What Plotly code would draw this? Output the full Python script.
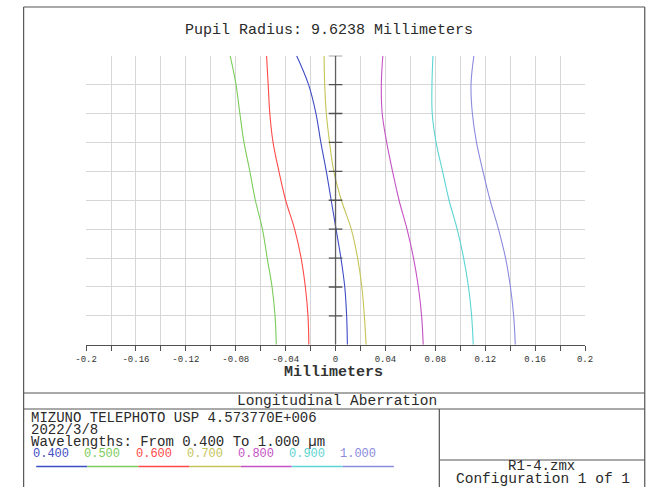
import plotly.graph_objects as go

W, H = 661, 487

# ---- data (normalized pupil vs longitudinal aberration in mm) ----
pupil = [1.0, 0.9, 0.8, 0.7, 0.6, 0.5, 0.4, 0.3, 0.2, 0.1, 0.0]
wl_400 = [-0.0312, -0.0216, -0.0157, -0.0118, -0.0074, -0.0035, 0.0004, 0.0043, 0.0074, 0.0089, 0.0095]
wl_500 = [-0.0845, -0.0798, -0.0767, -0.0734, -0.0687, -0.0643, -0.0586, -0.0548, -0.0509, -0.0485, -0.0475]
wl_600 = [-0.0553, -0.0540, -0.0527, -0.0501, -0.0454, -0.0400, -0.0328, -0.0276, -0.0242, -0.0221, -0.0214]
wl_700 = [-0.0092, -0.0087, -0.0074, -0.0048, -0.0014, 0.0047, 0.0126, 0.0177, 0.0211, 0.0231, 0.0245]
wl_800 = [0.0379, 0.0367, 0.0374, 0.0410, 0.0457, 0.0509, 0.0573, 0.0625, 0.0664, 0.0690, 0.0703]
wl_900 = [0.0781, 0.0773, 0.0775, 0.0806, 0.0858, 0.0910, 0.0975, 0.1027, 0.1066, 0.1091, 0.1104]
wl_1000 = [0.1109, 0.1086, 0.1097, 0.1130, 0.1182, 0.1239, 0.1306, 0.1363, 0.1402, 0.1428, 0.1441]

wave_labels = ["0.400", "0.500", "0.600", "0.700", "0.800", "0.900", "1.000"]
wave_colors = ["#3e4cc6", "#7ccc5a", "#ff4a4a", "#c4c458", "#c452c4", "#5cd4d4", "#8a8ade"]
series = [wl_400, wl_500, wl_600, wl_700, wl_800, wl_900, wl_1000]

x_tickvals = [round(-0.2 + 0.02 * i, 2) for i in range(21)]
x_ticktext = ["-0.2", "", "-0.16", "", "-0.12", "", "-0.08", "", "-0.04", "", "0",
              "", "0.04", "", "0.08", "", "0.12", "", "0.16", "", "0.2"]

MONO = "Liberation Mono, Courier New, monospace"
LINE = "#555555"
TXT = "#2a2a2a"

def X(px):
    return px / W

def Y(py):
    return 1 - py / H

# plot area in pixels
L, R, T, B = 77.3, 591.0, 55.7, 344.8

fig = go.Figure()
for vals, c, name in zip(series, wave_colors, wave_labels):
    fig.add_trace(go.Scatter(x=vals, y=pupil, mode="lines", name=name,
                             line=dict(color=c, width=1.1, shape="spline"),
                             showlegend=False, hoverinfo="skip"))

shapes = []
# zero line with ticks
shapes.append(dict(type="line", xref="x", yref="y", x0=0, x1=0, y0=0, y1=1,
                   line=dict(color="#606060", width=1.3)))
px_per_unit = (R - L) / 0.4
half = 7 / px_per_unit
for i in range(1, 11):
    yv = i / 10
    shapes.append(dict(type="line", xref="x", yref="y", x0=-half, x1=half, y0=yv, y1=yv,
                       line=dict(color="#505050", width=1.3)))

# page frame and table lines (pixel layout)
def seg(x0, y0, x1, y1, w=1.2):
    shapes.append(dict(type="line", xref="paper", yref="paper",
                       x0=X(x0), y0=Y(y0), x1=X(x1), y1=Y(y1),
                       line=dict(color=LINE, width=w)))

seg(13, 7, 652.5, 7)
seg(13, 7, 13, 487)
seg(652.5, 7, 652.5, 487)
seg(13, 393, 652.5, 393)
seg(13, 409, 652.5, 409)
seg(441, 409, 441, 487)
seg(441, 460, 652.5, 460)

# wavelength legend segments
seg_x0, seg_w = 26, 52.6
for i, c in enumerate(wave_colors):
    shapes.append(dict(type="line", xref="paper", yref="paper",
                       x0=X(seg_x0 + i * seg_w), x1=X(seg_x0 + (i + 1) * seg_w),
                       y0=Y(466.5), y1=Y(466.5), line=dict(color=c, width=1.3)))

annotations = []
def txt(s, x, y, size=15, anchor="left", color=TXT, bold=False):
    annotations.append(dict(text=("<b>%s</b>" % s) if bold else s,
                            x=X(x), y=Y(y), xref="paper", yref="paper",
                            xanchor=anchor, yanchor="middle", showarrow=False, borderpad=0,
                            font=dict(family=MONO, size=size, color=color)))

txt("Pupil Radius: 9.6238 Millimeters", 327, 30, anchor="center")
txt("Millimeters", 332, 372, anchor="center", bold=True, color="#333333")
txt("Longitudinal Aberration", 336, 401, anchor="center", size=14.5)
txt("MIZUNO TELEPHOTO USP 4.573770E+006", 20, 418, size=14)
txt("2022/3/8", 20, 430, size=14)
txt("Wavelengths: From 0.400 To 1.000 \u00b5m", 20, 442, size=14)
for i, (lab, c) in enumerate(zip(wave_labels, wave_colors)):
    txt(lab, 22 + i * 52.6, 454, size=12, color=c)
txt("R1-4.zmx", 546, 466, anchor="center", size=14)
txt("Configuration 1 of 1", 548, 478.5, anchor="center", size=14.5)

fig.update_layout(
    width=W, height=H,
    margin=dict(l=0, r=0, t=0, b=0),
    paper_bgcolor="white", plot_bgcolor="white",
    shapes=shapes, annotations=annotations,
    xaxis=dict(domain=[X(L), X(R)], range=[-0.2, 0.2], tickvals=x_tickvals, ticktext=x_ticktext,
               showgrid=True, gridcolor="#d6d6d6", gridwidth=1, zeroline=False,
               showline=True, linecolor="#505050", linewidth=1.3,
               ticks="outside", ticklen=5, tickcolor="#505050", tickwidth=1,
               tickfont=dict(family=MONO, size=9, color="#333333"), fixedrange=True),
    yaxis=dict(domain=[Y(B), Y(T)], range=[0, 1], dtick=0.1, showticklabels=False,
               showgrid=True, gridcolor="#d6d6d6", gridwidth=1, zeroline=False,
               showline=False, ticks="", fixedrange=True),
)

fig.write_html("out.html")
